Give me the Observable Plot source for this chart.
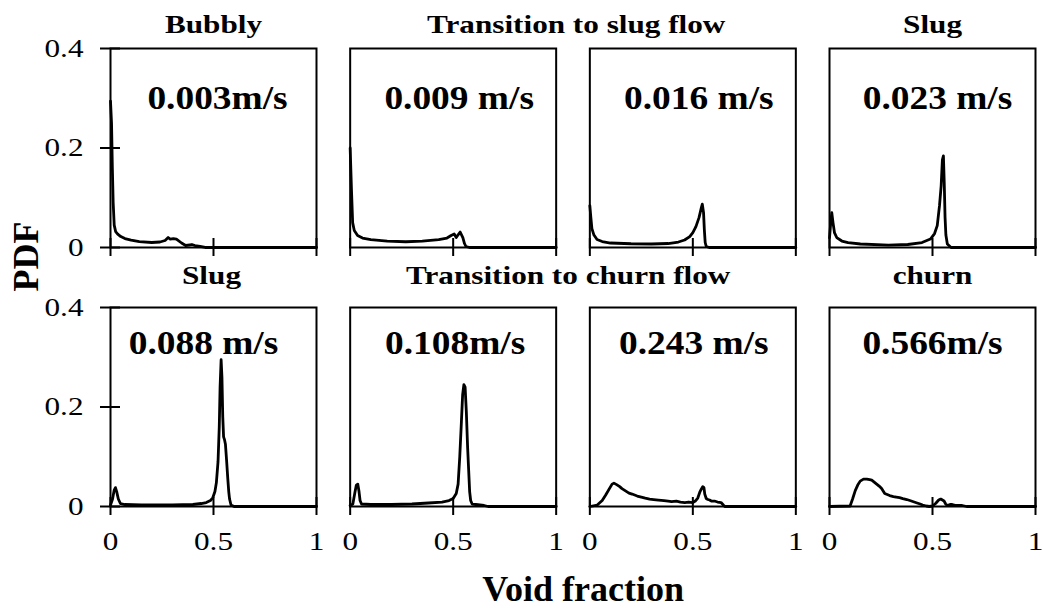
<!DOCTYPE html>
<html>
<head>
<meta charset="utf-8">
<script src="https://cdn.jsdelivr.net/npm/d3@7"></script>
<script src="https://cdn.jsdelivr.net/npm/@observablehq/plot@0.6"></script>
<style>
  html, body { margin: 0; padding: 0; background: #fff; }
</style>
</head>
<body>
<div id="chart"></div>
<script>
// Probability density of the void fraction, one curve per superficial gas velocity.
// Each curve is a list of [void fraction, PDF] pairs.
const pdf003 = [[0,0.294],[0.005,0.25],[0.009,0.16],[0.013,0.09],[0.018,0.045],[0.025,0.032],[0.035,0.027],[0.05,0.022],[0.07,0.018],[0.1,0.015],[0.14,0.012],[0.2,0.010],[0.24,0.011],[0.265,0.014],[0.28,0.02],[0.29,0.017],[0.305,0.018],[0.32,0.017],[0.345,0.009],[0.365,0.004],[0.395,0.006],[0.41,0.004],[0.435,0.002],[0.46,0],[1,0]];
const pdf009 = [[0,0.2],[0.006,0.12],[0.012,0.05],[0.02,0.034],[0.036,0.024],[0.06,0.019],[0.1,0.016],[0.18,0.013],[0.27,0.0115],[0.35,0.013],[0.43,0.016],[0.47,0.019],[0.49,0.024],[0.505,0.027],[0.515,0.02],[0.525,0.026],[0.534,0.031],[0.547,0.02],[0.555,0.008],[0.562,0.002],[0.58,0],[1,0]];
const pdf016 = [[0,0.084],[0.005,0.06],[0.01,0.038],[0.02,0.025],[0.035,0.016],[0.06,0.012],[0.1,0.009],[0.2,0.0075],[0.3,0.007],[0.38,0.008],[0.43,0.011],[0.46,0.015],[0.485,0.022],[0.5,0.03],[0.515,0.042],[0.53,0.06],[0.54,0.078],[0.546,0.087],[0.552,0.07],[0.556,0.035],[0.56,0.01],[0.565,0.002],[0.58,0],[1,0]];
const pdf023 = [[0,0.02],[0.006,0.05],[0.011,0.07],[0.017,0.05],[0.024,0.03],[0.035,0.02],[0.06,0.013],[0.09,0.010],[0.15,0.007],[0.286,0.0046],[0.38,0.006],[0.449,0.010],[0.49,0.017],[0.51,0.028],[0.523,0.044],[0.534,0.084],[0.542,0.124],[0.548,0.176],[0.553,0.184],[0.557,0.13],[0.561,0.06],[0.565,0.025],[0.572,0.007],[0.59,0],[1,0]];
const pdf088 = [[0,0.003],[0.01,0.015],[0.018,0.033],[0.024,0.038],[0.03,0.03],[0.038,0.015],[0.048,0.006],[0.07,0.004],[0.15,0.003],[0.3,0.003],[0.4,0.004],[0.44,0.006],[0.465,0.008],[0.485,0.012],[0.497,0.018],[0.507,0.03],[0.514,0.048],[0.522,0.09],[0.528,0.16],[0.532,0.24],[0.537,0.295],[0.541,0.26],[0.545,0.18],[0.549,0.14],[0.553,0.135],[0.558,0.125],[0.564,0.09],[0.569,0.058],[0.574,0.03],[0.578,0.015],[0.585,0.003],[0.6,0],[1,0]];
const pdf108 = [[0,0.002],[0.013,0.005],[0.023,0.028],[0.03,0.043],[0.037,0.045],[0.043,0.03],[0.048,0.012],[0.055,0.005],[0.1,0.004],[0.2,0.004],[0.3,0.005],[0.38,0.007],[0.446,0.009],[0.48,0.012],[0.5,0.016],[0.515,0.026],[0.524,0.045],[0.532,0.1],[0.54,0.17],[0.546,0.225],[0.552,0.245],[0.558,0.24],[0.564,0.19],[0.57,0.12],[0.575,0.075],[0.58,0.03],[0.585,0.012],[0.592,0.005],[0.61,0.004],[0.63,0.003],[0.65,0.002],[0.67,0],[1,0]];
const pdf243 = [[0,0],[0.036,0.003],[0.06,0.012],[0.077,0.023],[0.095,0.036],[0.108,0.045],[0.117,0.047],[0.13,0.044],[0.145,0.04],[0.156,0.036],[0.175,0.031],[0.19,0.027],[0.205,0.025],[0.23,0.021],[0.25,0.019],[0.269,0.017],[0.29,0.015],[0.31,0.014],[0.333,0.013],[0.36,0.012],[0.38,0.011],[0.397,0.010],[0.42,0.011],[0.44,0.009],[0.461,0.008],[0.48,0.009],[0.5,0.008],[0.512,0.011],[0.524,0.017],[0.535,0.03],[0.541,0.035],[0.548,0.04],[0.554,0.038],[0.558,0.025],[0.565,0.016],[0.573,0.014],[0.581,0.013],[0.59,0.011],[0.605,0.011],[0.62,0.009],[0.637,0.008],[0.648,0.003],[0.655,0],[1,0]];
const pdf566 = [[0,0],[0.1,0.001],[0.112,0.015],[0.125,0.032],[0.137,0.043],[0.149,0.051],[0.165,0.055],[0.181,0.055],[0.195,0.054],[0.205,0.053],[0.217,0.049],[0.229,0.045],[0.241,0.041],[0.253,0.036],[0.262,0.03],[0.268,0.026],[0.28,0.024],[0.292,0.022],[0.31,0.02],[0.324,0.019],[0.34,0.018],[0.356,0.016],[0.375,0.014],[0.39,0.012],[0.404,0.010],[0.425,0.007],[0.44,0.005],[0.452,0.003],[0.47,0.001],[0.484,0],[0.5,0.001],[0.515,0.006],[0.53,0.013],[0.54,0.015],[0.548,0.013],[0.556,0.011],[0.564,0.005],[0.572,0.002],[0.585,0.004],[0.596,0.004],[0.615,0.002],[0.644,0.002],[0.666,0],[1,0]];

const curves = [pdf003, pdf009, pdf016, pdf023, pdf088, pdf108, pdf243, pdf566];
const speedLabels = ["0.003m/s", "0.009 m/s", "0.016 m/s", "0.023 m/s", "0.088 m/s", "0.108m/s", "0.243 m/s", "0.566m/s"];
const panelCols = [0, 1, 2, 3, 0, 1, 2, 3];
const panelRows = [0, 0, 0, 0, 1, 1, 1, 1];

const regimeTitles = ["Bubbly", "Transition to slug flow", "Slug", "Slug", "Transition to churn flow", "churn"];

const xTicks = [0, 0.5, 1];
const xTickLabels = ["0", "0.5", "1"];
const yTicks = [0, 0.2, 0.4];
const yTickLabels = ["0", "0.2", "0.4"];

const xTitle = "Void fraction";
const yTitle = "PDF";

// Long table for the line mark, one facet cell per panel.
const points = curves.flatMap((curve, i) =>
  curve.map(([x, y]) => ({panel: i, col: panelCols[i], row: panelRows[i], x, y}))
);

const serif = "'Liberation Serif', 'Times New Roman', Times, serif";

const yTickRows = [0, 1].flatMap(row => yTicks.map((v, i) => ({v, label: yTickLabels[i], col: 0, row})));
const xTickRows = [0, 1, 2, 3].flatMap(col => xTicks.map((v, i) => ({v, label: xTickLabels[i], col, row: 1})));

const TITLE_SIZE = 26, TICK_SIZE = 26, SPEED_SIZE = 34, AXIS_TITLE_SIZE = 36;

// Regime heading over one panel, or centred over the gap between columns 1 and 2.
function heading(text, row, col, spanning, dx) {
  return Plot.text([{text, col, row}], {
    fx: "col", fy: "row", text: "text",
    frameAnchor: spanning ? "top-right" : "top",
    textAnchor: "middle", lineAnchor: "bottom",
    dx, dy: row === 0 ? -16 : -24,
    fontSize: TITLE_SIZE, fontWeight: "bold", fill: "black"
  });
}

// Velocity label inside each panel.
function speed(i) {
  const nudge = [4, 6, 6, 5, -10, 2, 1, 0][i];
  return Plot.text([{text: speedLabels[i], col: panelCols[i], row: panelRows[i]}], {
    fx: "col", fy: "row", text: "text",
    frameAnchor: "top", textAnchor: "middle", lineAnchor: "bottom",
    dx: nudge, dy: panelRows[i] === 0 ? 60 : 46,
    fontSize: SPEED_SIZE, fontWeight: "bold", fill: "black"
  });
}

const chart = Plot.plot({
  width: 1043,
  height: 610,
  marginLeft: 110,
  marginRight: 8,
  marginTop: 48,
  marginBottom: 104,
  style: {fontFamily: serif, background: "white", color: "black"},
  x: {domain: [0, 1], axis: null},
  y: {domain: [0, 0.4], axis: null},
  fx: {domain: [0, 1, 2, 3], axis: null, paddingInner: 0.1405, paddingOuter: 0, round: false},
  fy: {domain: [0, 1], axis: null, paddingInner: 0.2317, paddingOuter: 0, round: false},
  marks: [
    Plot.line(points, {
      fx: "col", fy: "row", x: "x", y: "y", z: "panel",
      stroke: "black", strokeWidth: 2.8, strokeLinejoin: "round"
    }),
    Plot.frame({stroke: "black", strokeWidth: 2}),
    // cross-style tick marks on the zero line of every panel
    Plot.ruleX(xTicks, {x: d => d, y1: 0, y2: 0, insetTop: -9, insetBottom: -9, stroke: "black", strokeWidth: 2}),
    // y ticks only on the left column
    Plot.ruleY(yTickRows, {fx: "col", fy: "row", y: "v", x1: 0, x2: 0, insetLeft: -10, insetRight: -10, stroke: "black", strokeWidth: 2}),
    Plot.text(yTickRows, {
      fx: "col", fy: "row", y: "v", text: "label",
      frameAnchor: "left", textAnchor: "end", lineAnchor: "middle", dx: -27,
      fontSize: TICK_SIZE, fill: "black"
    }),
    Plot.text(xTickRows, {
      fx: "col", fy: "row", x: "v", text: "label",
      frameAnchor: "bottom", textAnchor: "middle", lineAnchor: "bottom", dy: 43,
      fontSize: TICK_SIZE, fill: "black"
    }),
    heading(regimeTitles[0], 0, 0, false, 0),
    heading(regimeTitles[1], 0, 1, true, 20),
    heading(regimeTitles[2], 0, 3, false, 0),
    heading(regimeTitles[3], 1, 0, false, -2),
    heading(regimeTitles[4], 1, 1, true, 12),
    heading(regimeTitles[5], 1, 3, false, 0),
    ...speedLabels.map((_, i) => speed(i)),
    Plot.text([{text: yTitle, col: 0, row: 0}], {
      fx: "col", fy: "row", text: "text",
      frameAnchor: "bottom-left", textAnchor: "middle", lineAnchor: "bottom",
      rotate: -90, dx: -73, dy: 9,
      fontSize: AXIS_TITLE_SIZE, fontWeight: "bold", fill: "black"
    }),
    Plot.text([{text: xTitle, col: 1, row: 1}], {
      fx: "col", fy: "row", text: "text",
      frameAnchor: "bottom-right", textAnchor: "middle", lineAnchor: "bottom",
      dx: 27, dy: 94,
      fontSize: AXIS_TITLE_SIZE, fontWeight: "bold", fill: "black"
    })
  ]
});

// The serif lettering of headings, tick labels and velocities is set slightly wide.
const widen = new Map([[TITLE_SIZE, 1.2], [SPEED_SIZE, 1.1]]);
chart.querySelectorAll("text").forEach(t => {
  const g = t.closest("[font-size]");
  if (!g) return;
  const k = widen.get(+g.getAttribute("font-size"));
  if (!k) return;
  const tr = t.getAttribute("transform");
  if (tr == null) return;
  t.setAttribute("transform", tr + ` scale(${k},1)`);
});

document.getElementById("chart").appendChild(chart);
</script>
</body>
</html>
